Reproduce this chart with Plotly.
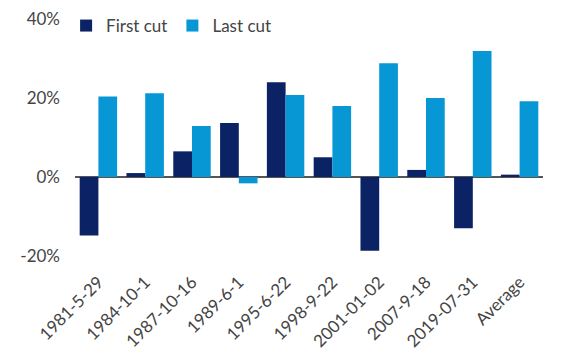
import plotly.graph_objects as go

categories = ["1981-5-29", "1984-10-1", "1987-10-16", "1989-6-1", "1995-6-22",
              "1998-9-22", "2001-01-02", "2007-9-18", "2019-07-31", "Average"]
first_cut = [-14.8, 1.0, 6.5, 13.7, 24.0, 5.0, -18.7, 1.8, -13.0, 0.6]
last_cut = [20.4, 21.2, 12.9, -1.6, 20.8, 18.0, 28.8, 20.0, 31.9, 19.2]
y_ticks = [-20, 0, 20, 40]
y_tick_labels = ["-20%", "0%", "20%", "40%"]

font_family = "Lato, 'Open Sans', sans-serif"
text_color = "#444444"

fig = go.Figure()
fig.add_trace(go.Bar(name="First cut", x=categories, y=first_cut, marker_color="#0B2265",
                     marker_line_width=0))
fig.add_trace(go.Bar(name="Last cut", x=categories, y=last_cut, marker_color="#0897D5",
                     marker_line_width=0))

fig.update_layout(
    width=557, height=347,
    margin=dict(l=67, r=22, t=0, b=99, pad=0, autoexpand=False),
    paper_bgcolor="white", plot_bgcolor="white",
    barmode="group", bargap=0.2, bargroupgap=0.0,
    font=dict(family=font_family, color=text_color, size=17),
    showlegend=True,
    legend=dict(orientation="h", x=-0.019, y=1.0, xanchor="left", yanchor="top",
                font=dict(size=17, color=text_color), itemwidth=30,
                bgcolor="rgba(0,0,0,0)", tracegroupgap=0),
    xaxis=dict(type="category", tickangle=-45, showgrid=False, showline=False, zeroline=False,
               automargin=False, ticklabelstandoff=12,
               tickfont=dict(size=17, color=text_color)),
    yaxis=dict(range=[-20, 42.8], tickvals=y_ticks, ticktext=y_tick_labels,
               showgrid=False, showline=False, zeroline=True, zerolinecolor="#555555",
               zerolinewidth=1.5, ticklabelstandoff=14, automargin=False,
               tickfont=dict(size=17, color=text_color)),
)

fig.write_html("out.html")
